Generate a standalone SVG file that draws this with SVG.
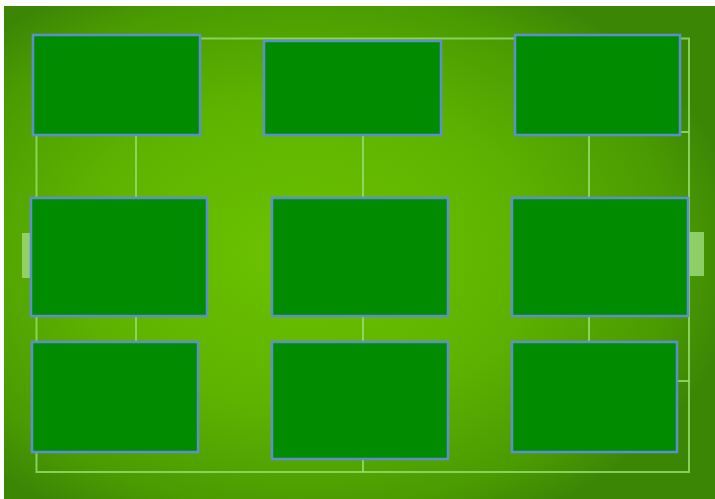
<svg xmlns="http://www.w3.org/2000/svg" width="715" height="499" viewBox="0 0 715 499">
<defs>
<radialGradient id="grass" cx="0.42" cy="0.5" r="0.62">
<stop offset="0" stop-color="#6cc200"/>
<stop offset="0.5" stop-color="#5eb300"/>
<stop offset="0.85" stop-color="#4a9a02"/>
<stop offset="1" stop-color="#3c8606"/>
</radialGradient>
<style>
.box{fill:#008b00;stroke:#5b8fcf;stroke-width:2.5}
.ln{stroke:#93dd68;stroke-width:2;fill:none;stroke-opacity:0.85}
.goal{fill:#9bd878;fill-opacity:0.85}
</style>
</defs>
<rect x="0" y="0" width="715" height="499" fill="#ffffff"/>
<rect x="4" y="6" width="711" height="493" fill="url(#grass)"/>
<g id="field">
<rect class="goal" x="22" y="233" width="9" height="45"/>
<rect class="goal" x="689" y="232" width="15" height="44"/>
</g>
<g id="connectors">
<rect class="ln" x="36.5" y="38.5" width="652.5" height="433.5"/>
<line class="ln" x1="136" y1="135" x2="136" y2="198"/>
<line class="ln" x1="363" y1="135" x2="363" y2="198"/>
<line class="ln" x1="589" y1="135" x2="589" y2="198"/>
<line class="ln" x1="136" y1="316" x2="136" y2="342"/>
<line class="ln" x1="363" y1="316" x2="363" y2="342"/>
<line class="ln" x1="589" y1="316" x2="589" y2="342"/>
<line class="ln" x1="363" y1="459" x2="363" y2="472"/>
<line class="ln" x1="680" y1="132" x2="689" y2="132"/>
<line class="ln" x1="677" y1="381" x2="689" y2="381"/>
</g>
<g id="node1"><rect class="box" x="33" y="35" width="167" height="100"/></g>
<g id="node2"><rect class="box" x="264" y="41" width="177" height="94"/></g>
<g id="node3"><rect class="box" x="515" y="35" width="165" height="100"/></g>
<g id="node4"><rect class="box" x="31" y="198" width="176" height="118"/></g>
<g id="node5"><rect class="box" x="272" y="198" width="176" height="118"/></g>
<g id="node6"><rect class="box" x="512" y="198" width="176" height="118"/></g>
<g id="node7"><rect class="box" x="32" y="342" width="166" height="110"/></g>
<g id="node8"><rect class="box" x="272" y="342" width="176" height="117"/></g>
<g id="node9"><rect class="box" x="512" y="342" width="165" height="110"/></g>
</svg>
